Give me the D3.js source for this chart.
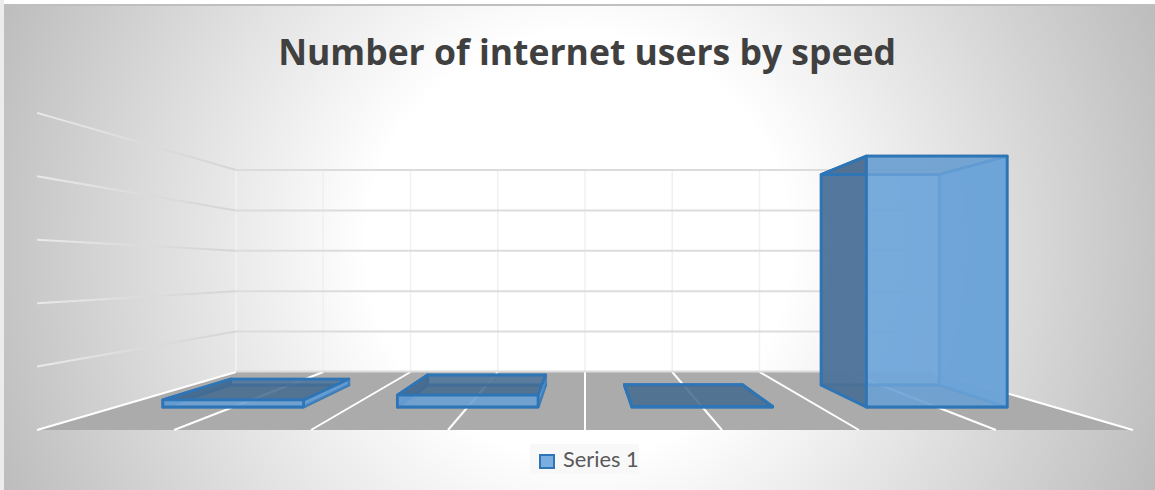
<!DOCTYPE html>
<html><head><meta charset="utf-8">
<script src="https://cdnjs.cloudflare.com/ajax/libs/d3/7.8.5/d3.min.js"></script>
<style>html,body{margin:0;padding:0;background:#fff}svg{display:block}</style></head>
<body><script>
const titleText = "Number of internet users by speed";
const seriesName = "Series 1";
const categories = ["Category 1","Category 2","Category 3","Category 4"];
const values = [0.13,0.22,0.01,4.62];
const yTicks = [1,2,3,4,5];
const W=1155,H=490;
const svg=d3.select("body").append("svg").attr("width",W).attr("height",H);
const defs=svg.append("defs");
const bg=defs.append("radialGradient").attr("id","bg").attr("gradientUnits","userSpaceOnUse")
 .attr("cx",578).attr("cy",245).attr("r",640);
[[0.33,"#ffffff"],[1,"#bababa"]].forEach(s=>bg.append("stop").attr("offset",s[0]).attr("stop-color",s[1]));
const wl=defs.append("linearGradient").attr("id","wallLine").attr("gradientUnits","userSpaceOnUse")
 .attr("x1",37).attr("x2",236).attr("y1",0).attr("y2",0);
[[0,"#e9e9e9"],[0.5,"#dcdcdc"],[1,"#d6d6d6"]].forEach(s=>wl.append("stop").attr("offset",s[0]).attr("stop-color",s[1]));

svg.append("rect").attr("x",4).attr("y",4).attr("width",1151).attr("height",486).attr("fill","url(#bg)");
svg.append("rect").attr("x",0).attr("y",0).attr("width",4).attr("height",H).attr("fill","#ececec");
svg.append("rect").attr("x",4).attr("y",4).attr("width",1151).attr("height",2).attr("fill","#bfbfbf");

// perspective projection, scales describing world -> screen
const sx=d3.scaleLinear().domain([0,8]).range([-349,349]);
const sy=d3.scaleLinear().domain([0,5]).range([-101.75,100.25]);
const sd=d3.scaleLinear().domain([0,1]).range([1,1.57]);
const vx=585,vy=270.25;
const P=(cell,val,depth)=>{const s=sd(depth);return [vx+sx(cell)*s,vy-sy(val)*s];};
const poly=pts=>"M"+pts.map(p=>p.join(",")).join("L")+"Z";

// floor
svg.append("path").attr("d",poly([P(0,0,0),P(8,0,0),P(8,0,1),P(0,0,1)])).attr("fill","#ababab");
const cells=d3.range(0,9);
svg.selectAll(".fl").data(cells).join("line")
 .attr("x1",d=>P(d,0,0)[0]).attr("y1",d=>P(d,0,0)[1]).attr("x2",d=>P(d,0,1)[0]).attr("y2",d=>P(d,0,1)[1])
 .attr("stroke","#fff").attr("stroke-width",2);
// back wall verticals
svg.selectAll(".bv").data(cells.slice(1)).join("line")
 .attr("x1",d=>P(d,0,0)[0]).attr("y1",P(0,0,0)[1]).attr("x2",d=>P(d,0,0)[0]).attr("y2",P(0,5,0)[1])
 .attr("stroke","#f0f0f0").attr("stroke-width",1.5);
svg.append("line").attr("x1",P(0,0,0)[0]).attr("x2",P(0,0,0)[0]).attr("y1",P(0,0,0)[1]).attr("y2",P(0,5,0)[1])
 .attr("stroke","#f0f0f0").attr("stroke-width",2);
svg.append("line").attr("x1",P(0,0,0)[0]).attr("x2",P(8,0,0)[0]).attr("y1",P(0,0,0)[1]-0.5).attr("y2",P(0,0,0)[1]-0.5)
 .attr("stroke","#dcdcdc").attr("stroke-width",2);
// horizontal gridlines on the back wall + side wall
svg.selectAll(".bh").data(yTicks).join("line")
 .attr("x1",P(0,0,0)[0]).attr("x2",P(8,0,0)[0]).attr("y1",d=>P(0,d,0)[1]).attr("y2",d=>P(0,d,0)[1])
 .attr("stroke","#dcdcdc").attr("stroke-width",2);
svg.selectAll(".sh").data(yTicks).join("path")
 .attr("d",d=>{const a=P(0,d,1),b=P(0,d,0);return `M${a}L${b}`;})
 .attr("fill","none").attr("stroke","url(#wallLine)").attr("stroke-width",2);

// bars
const depthBack=(385-vy)/101.75, depthFront=(407-vy)/101.75;
const db=sd.invert(depthBack), df=sd.invert(depthFront);
const stroke="#2e75b6";
categories.forEach((c,i)=>{
  const x0=i*2+0.4,x1=i*2+1.6,v=values[i];
  const g=svg.append("g").attr("data-cat",c).attr("stroke",stroke).attr("stroke-width",2.8).attr("stroke-linejoin","round");
  const face=(pts,fill,op,sw)=>g.append("path").attr("d",poly(pts)).attr("fill",fill).attr("fill-opacity",op).attr("stroke-opacity",sw);
  face([P(x0,0,db),P(x1,0,db),P(x1,v,db),P(x0,v,db)],"#7fb0e0",0.75,.45);
  face([P(x0,0,db),P(x1,0,db),P(x1,0,df),P(x0,0,df)],"#3d6f9e",0.45,.7);
  face([P(x1,0,db),P(x1,0,df),P(x1,v,df),P(x1,v,db)],"#659dd3",0.9,.55);
  face([P(x0,0,db),P(x0,0,df),P(x0,v,df),P(x0,v,db)],"#4c7095",0.9,1);
  face([P(x0,v,db),P(x1,v,db),P(x1,v,df),P(x0,v,df)],"#47698c",v>3?0.55:0.75,1);
  face([P(x0,0,df),P(x1,0,df),P(x1,v,df),P(x0,v,df)],"#6ea5da",0.8,1);
});

// title
svg.append("text").attr("x",587).attr("y",65).attr("text-anchor","middle")
 .attr("font-family","'Open Sans', sans-serif").attr("font-weight",700).attr("font-size",35.5)
 .attr("fill","#404040").text(titleText);

// legend
const lg=svg.append("g");
lg.append("rect").attr("x",530).attr("y",444).attr("width",109).attr("height",30).attr("fill","#f8f8f8");
lg.append("rect").attr("x",540).attr("y",455).attr("width",14).attr("height",13).attr("fill","#7aaee0").attr("stroke",stroke).attr("stroke-width",2);
lg.append("text").attr("x",563).attr("y",467).attr("font-family","Lato, sans-serif").attr("font-size",21.8).attr("fill","#595959").text(seriesName);
</script></body></html>
